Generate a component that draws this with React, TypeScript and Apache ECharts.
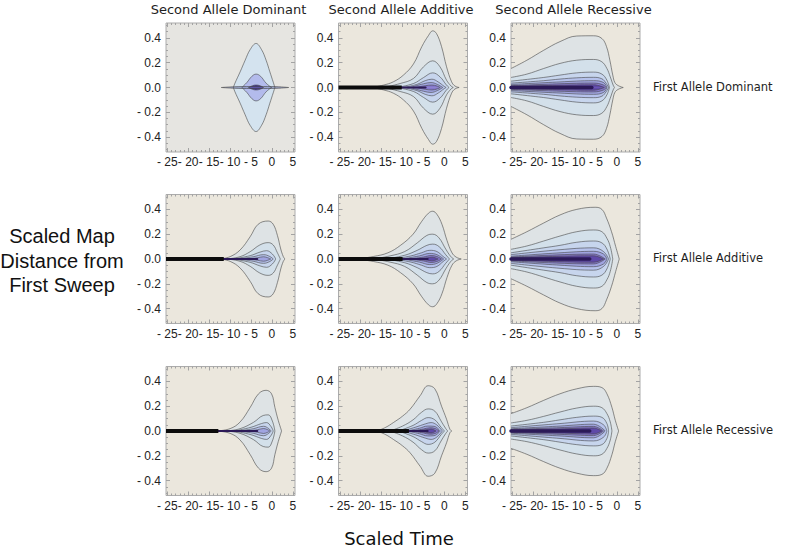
import React, { useEffect, useRef } from "react";
import * as echarts from "echarts";

type Pt = [number, number];
type Contour = Pt[];

const colTitles = ["Second Allele Dominant", "Second Allele Additive", "Second Allele Recessive"];
const rowTitles = ["First Allele Dominant", "First Allele Additive", "First Allele Recessive"];
const yTitleLines = ["Scaled Map", "Distance from", "First Sweep"];
const xTitle = "Scaled Time";

const xTicks = [-25, -20, -15, -10, -5, 0, 5];
const yTicks = [-0.4, -0.2, 0, 0.2, 0.4];
const X_MIN = -25.3, X_MAX = 5.5, Y_MIN = -0.52, Y_MAX = 0.52;

// Each contour: [x, half-width] points of its upper edge (mirrored below 0).
const fDomSDom: Contour[] = [
  [[-9.2, 0], [-8.9, 0.03], [-7.6, 0.126], [-6.4, 0.22], [-5.2, 0.306], [-3.8, 0.355], [-2.5, 0.306], [-1.4, 0.22], [-0.5, 0.126], [0.3, 0.043], [0.7, 0]],
  [[-7.2, 0], [-6.0, 0.04], [-4.8, 0.09], [-3.8, 0.108], [-2.7, 0.09], [-1.4, 0.035], [-0.1, 0]],
  [[-12.1, 0], [-9, 0.006], [-5, 0.008], [-2, 0.008], [1.5, 0.006], [4.0, 0]],
  [[-5.6, 0], [-4.6, 0.015], [-3.8, 0.02], [-2.9, 0.015], [-2.0, 0]],
];
const fDomSAdd: Contour[] = [
  [[-17.3, 0], [-14.6, 0.019], [-12.2, 0.046], [-9.8, 0.1], [-7.4, 0.19], [-5.4, 0.33], [-3.8, 0.42], [-2.8, 0.457], [-1.9, 0.435], [-0.7, 0.33], [0.5, 0.167], [1.7, 0.046], [2.5, 0.012], [3.5, 0]],
  [[-14.6, 0], [-10.6, 0.032], [-7.4, 0.073], [-5.0, 0.167], [-2.8, 0.215], [-1.07, 0.167], [0.5, 0.059], [1.6, 0.011], [2.1, 0]],
  [[-11.4, 0], [-7.4, 0.032], [-5.0, 0.08], [-2.8, 0.118], [-1.07, 0.086], [0.5, 0.019], [1.1, 0]],
  [[-9.8, 0], [-6.6, 0.025], [-4.6, 0.055], [-3.0, 0.067], [-1.5, 0.045], [-0.1, 0.01], [0.4, 0]],
  [[-8.2, 0], [-5.0, 0.03], [-3.2, 0.04], [-1.7, 0.025], [-0.4, 0]],
  [[-7, 0], [-4.5, 0.015], [-3, 0.02], [-1.8, 0.012], [-1, 0]],
];
const fDomSRec: Contour[] = [
  [[-25.3, 0.153], [-21.5, 0.22], [-17.5, 0.3], [-13.6, 0.37], [-9.6, 0.415], [-5.6, 0.417], [-3.6, 0.395], [-2.5, 0.33], [-1.7, 0.22], [-1.0, 0.1], [-0.5, 0.04], [0.3, 0.015], [1.5, 0]],
  [[-25.3, 0.081], [-21.5, 0.108], [-17.5, 0.153], [-13.6, 0.194], [-9.6, 0.22], [-5.6, 0.226], [-3.6, 0.207], [-2.4, 0.153], [-1.6, 0.086], [-0.9, 0.019], [-0.6, 0]],
  [[-25.3, 0.051], [-17.5, 0.081], [-13.6, 0.1], [-9.6, 0.118], [-5.6, 0.124], [-3.6, 0.108], [-2.4, 0.059], [-1.8, 0]],
  [[-25.3, 0.035], [-17.5, 0.055], [-13.6, 0.068], [-9.6, 0.078], [-5.6, 0.082], [-3.6, 0.07], [-2.6, 0.035], [-2.0, 0]],
  [[-25.3, 0.024], [-13.6, 0.045], [-5.6, 0.055], [-3.2, 0.04], [-2.4, 0]],
  [[-25.3, 0.015], [-13.6, 0.03], [-5.6, 0.036], [-3.2, 0.02], [-2.6, 0]],
  [[-25.3, 0.01], [-13.6, 0.018], [-5.6, 0.022], [-3.0, 0]],
];
const fAddSDom: Contour[] = [
  [[-12.4, 0], [-10.0, 0.019], [-7.6, 0.073], [-5.2, 0.18], [-3.3, 0.28], [-0.9, 0.306], [0.3, 0.28], [1.3, 0.19], [2.1, 0.08], [2.7, 0.02], [3.1, 0]],
  [[-10.8, 0], [-7.6, 0.019], [-5.2, 0.059], [-2.9, 0.113], [-0.9, 0.132], [0.3, 0.113], [1.3, 0.05], [2.0, 0]],
  [[-9.2, 0], [-5.2, 0.027], [-2.9, 0.055], [-1.3, 0.067], [0.1, 0.04], [0.9, 0]],
  [[-8, 0], [-4.5, 0.018], [-2, 0.035], [-0.5, 0.02], [0.3, 0]],
  [[-6, 0], [-3.5, 0.01], [-2, 0.018], [-1, 0.01], [-0.3, 0]],
];
const fAddSAdd: Contour[] = [
  [[-21, 0], [-17, 0.02], [-13.5, 0.05], [-10.5, 0.11], [-7.5, 0.2], [-5.5, 0.3], [-3.8, 0.37], [-2.8, 0.385], [-1.8, 0.36], [-0.6, 0.28], [0.6, 0.15], [1.8, 0.05], [2.8, 0.015], [4.0, 0]],
  [[-17, 0], [-13, 0.025], [-9.5, 0.06], [-6.5, 0.13], [-4.2, 0.19], [-2.8, 0.2], [-1.3, 0.17], [0.3, 0.08], [1.5, 0.02], [2.2, 0]],
  [[-14, 0], [-9.5, 0.03], [-6.5, 0.07], [-4.2, 0.11], [-2.8, 0.12], [-1.3, 0.1], [0.3, 0.035], [1.2, 0]],
  [[-12, 0], [-8, 0.025], [-5.5, 0.05], [-3.5, 0.07], [-1.8, 0.06], [-0.3, 0.02], [0.5, 0]],
  [[-10, 0], [-6, 0.025], [-3.5, 0.045], [-1.8, 0.035], [-0.2, 0]],
  [[-8.5, 0], [-5, 0.016], [-3.2, 0.028], [-1.8, 0.02], [-0.7, 0]],
  [[-7, 0], [-4, 0.01], [-3, 0.015], [-1.5, 0]],
];
const fAddSRec: Contour[] = [
  [[-25.3, 0.159], [-21.5, 0.22], [-17.5, 0.29], [-13.6, 0.355], [-9.6, 0.4], [-5.2, 0.417], [-3.6, 0.4], [-2.5, 0.33], [-1.3, 0.22], [-0.3, 0.1], [0.55, 0]],
  [[-25.3, 0.078], [-21.5, 0.105], [-17.5, 0.145], [-13.6, 0.185], [-9.6, 0.22], [-5.6, 0.234], [-3.6, 0.22], [-2.4, 0.167], [-1.6, 0.1], [-1.0, 0]],
  [[-25.3, 0.05], [-17.5, 0.09], [-13.6, 0.11], [-9.6, 0.135], [-5.6, 0.145], [-3.6, 0.13], [-2.4, 0.08], [-1.6, 0]],
  [[-25.3, 0.035], [-13.6, 0.075], [-5.6, 0.09], [-3.2, 0.06], [-2.0, 0]],
  [[-25.3, 0.022], [-13.6, 0.05], [-5.6, 0.062], [-3.2, 0.04], [-2.4, 0]],
  [[-25.3, 0.015], [-13.6, 0.034], [-5.6, 0.04], [-2.8, 0]],
  [[-25.3, 0.009], [-13.6, 0.022], [-5.6, 0.026], [-3.2, 0]],
];
const fRecSDom: Contour[] = [
  [[-13.2, 0], [-10.0, 0.019], [-7.6, 0.073], [-5.2, 0.19], [-3.2, 0.3], [-1.4, 0.328], [-0.1, 0.3], [0.7, 0.19], [1.5, 0.086], [2.3, 0]],
  [[-10.8, 0], [-7.6, 0.019], [-4.4, 0.07], [-2.1, 0.125], [-0.9, 0.13], [0.1, 0.08], [0.7, 0]],
  [[-9, 0], [-5, 0.03], [-2.5, 0.06], [-1.3, 0.068], [-0.2, 0.035], [0.3, 0]],
  [[-8, 0], [-4.5, 0.018], [-2, 0.038], [-0.8, 0.02], [-0.2, 0]],
  [[-6, 0], [-3.5, 0.01], [-2, 0.02], [-1, 0.01], [-0.5, 0]],
];
const fRecSAdd: Contour[] = [
  [[-16.1, 0], [-14, 0.03], [-12.2, 0.068], [-10, 0.12], [-8.2, 0.176], [-5.8, 0.285], [-3.9, 0.365], [-2.3, 0.34], [-0.7, 0.2], [0.5, 0.095], [1.3, 0.014], [1.7, 0]],
  [[-13, 0], [-10, 0.04], [-7.5, 0.09], [-5.5, 0.15], [-3.9, 0.178], [-2.3, 0.16], [-0.8, 0.08], [0.3, 0.02], [0.8, 0]],
  [[-11, 0], [-7.5, 0.045], [-5.5, 0.085], [-3.9, 0.108], [-2.3, 0.09], [-0.8, 0.03], [0, 0]],
  [[-10, 0], [-7, 0.03], [-4.5, 0.058], [-3.2, 0.068], [-1.8, 0.048], [-0.5, 0]],
  [[-9, 0], [-6, 0.022], [-4, 0.04], [-2.5, 0.038], [-1, 0]],
  [[-8, 0], [-5, 0.016], [-3.5, 0.026], [-2.2, 0.02], [-1.3, 0]],
  [[-7, 0], [-4.5, 0.01], [-3.2, 0.016], [-2, 0]],
];
const fRecSRec: Contour[] = [
  [[-25.3, 0.14], [-21.5, 0.188], [-17.5, 0.247], [-13.6, 0.3], [-9.6, 0.34], [-5.6, 0.36], [-3.6, 0.35], [-2.4, 0.3], [-1.2, 0.19], [-0.4, 0.086], [0.4, 0]],
  [[-25.3, 0.065], [-21.5, 0.086], [-17.5, 0.118], [-13.6, 0.153], [-9.6, 0.185], [-5.6, 0.2], [-3.6, 0.188], [-2.4, 0.14], [-1.6, 0.073], [-1.2, 0]],
  [[-25.3, 0.04], [-17.5, 0.07], [-13.6, 0.09], [-9.6, 0.11], [-5.6, 0.12], [-3.6, 0.11], [-2.4, 0.06], [-2.0, 0]],
  [[-25.3, 0.027], [-13.6, 0.06], [-5.6, 0.08], [-3.2, 0.05], [-2.4, 0]],
  [[-25.3, 0.018], [-13.6, 0.04], [-5.6, 0.055], [-2.8, 0]],
  [[-25.3, 0.012], [-13.6, 0.027], [-5.6, 0.037], [-3.2, 0]],
  [[-25.3, 0.007], [-13.6, 0.017], [-5.6, 0.024], [-3.6, 0]],
];

const panelContours: Contour[][][] = [
  [fDomSDom, fDomSAdd, fDomSRec],
  [fAddSDom, fAddSAdd, fAddSRec],
  [fRecSDom, fRecSAdd, fRecSRec],
];
// where the thick black ridge along 0 ends (null = none)
const blackRidgeEnd: (number | null)[][] = [
  [null, -10.2, null],
  [-11.5, -10.0, null],
  [-12.8, -8.5, null],
];
// where the dark purple core along 0 ends
const darkRidgeEnd: (number | null)[][] = [
  [null, -4.5, -6.0],
  [-3.5, -4.0, -6.5],
  [-3.5, -4.0, -6.5],
];

const COL_LEFT = [166, 338.5, 511];
const ROW_TOP = [23, 194.5, 366.5];
const SIZE = 129;

const PAL_MAIN = ["#dee3e5", "#d3e0ea", "#c7d5ed", "#b6c2ec", "#a0a4e0", "#8577cc", "#5f49a8"];
const PAL_FIRST = ["#d4e3ef", "#b3bbec", "#8e98c4", "#4a3a98"];

function fmtX(v: number) {
  return v < 0 ? "- " + Math.abs(v) : String(v);
}
function fmtY(v: number) {
  const a = Math.abs(v);
  return (v < -1e-9 ? "- " : "") + a.toFixed(1);
}

export default function App() {
  const ref = useRef<HTMLDivElement>(null);
  useEffect(() => {
    if (!ref.current) return;
    const chart = echarts.init(ref.current, null, { renderer: "svg" });

    const minorX: number[] = [];
    for (let v = -25; v <= 5; v++) if (v % 5 !== 0) minorX.push(v);
    const minorY: number[] = [];
    for (let i = -10; i <= 10; i++) if (i % 4 !== 0) minorY.push(i * 0.05);

    const grids: any[] = [];
    const xAxes: any[] = [];
    const yAxes: any[] = [];
    const series: any[] = [];
    const tickColor = "#a3a3a3";

    for (let r = 0; r < 3; r++) {
      for (let c = 0; c < 3; c++) {
        const gi = r * 3 + c;
        const first = r === 0 && c === 0;
        grids.push({
          left: COL_LEFT[c],
          top: ROW_TOP[r],
          width: SIZE,
          height: SIZE,
          show: true,
          backgroundColor: first ? "#e6e5e1" : "#ebe7dd",
          borderColor: "#acacac",
          borderWidth: 1,
        });
        const baseX = {
          gridIndex: gi,
          type: "value",
          min: X_MIN,
          max: X_MAX,
          axisLine: { show: false, onZero: false },
          splitLine: { show: false },
        };
        const baseY = {
          gridIndex: gi,
          type: "value",
          min: Y_MIN,
          max: Y_MAX,
          axisLine: { show: false, onZero: false },
          splitLine: { show: false },
        };
        xAxes.push(
          {
            ...baseX,
            position: "bottom",
            axisTick: { show: true, inside: true, length: 4, customValues: xTicks, lineStyle: { color: tickColor } },
            axisLabel: {
              show: true,
              customValues: xTicks,
              formatter: fmtX,
              fontSize: 12,
              fontFamily: "Liberation Sans",
              color: "#222",
              margin: 4,
            },
          },
          {
            ...baseX,
            position: "top",
            axisTick: { show: true, inside: true, length: 4, customValues: xTicks, lineStyle: { color: tickColor } },
            axisLabel: { show: false },
          },
          {
            ...baseX,
            position: "bottom",
            axisTick: { show: true, inside: true, length: 2, customValues: minorX, lineStyle: { color: tickColor } },
            axisLabel: { show: false },
          },
          {
            ...baseX,
            position: "top",
            axisTick: { show: true, inside: true, length: 2, customValues: minorX, lineStyle: { color: tickColor } },
            axisLabel: { show: false },
          }
        );
        yAxes.push(
          {
            ...baseY,
            position: "left",
            axisTick: { show: true, inside: true, length: 4, customValues: yTicks, lineStyle: { color: tickColor } },
            axisLabel: {
              show: true,
              customValues: yTicks,
              formatter: fmtY,
              fontSize: 12,
              fontFamily: "Liberation Sans",
              color: "#222",
              margin: 5,
            },
          },
          {
            ...baseY,
            position: "right",
            axisTick: { show: true, inside: true, length: 4, customValues: yTicks, lineStyle: { color: tickColor } },
            axisLabel: { show: false },
          },
          {
            ...baseY,
            position: "left",
            axisTick: { show: true, inside: true, length: 2, customValues: minorY, lineStyle: { color: tickColor } },
            axisLabel: { show: false },
          },
          {
            ...baseY,
            position: "right",
            axisTick: { show: true, inside: true, length: 2, customValues: minorY, lineStyle: { color: tickColor } },
            axisLabel: { show: false },
          }
        );

        const pal = first ? PAL_FIRST : PAL_MAIN;
        const contours = panelContours[r][c];
        contours.forEach((ct, k) => {
          const color = pal[Math.min(k, pal.length - 1)];
          [1, -1].forEach((sign) => {
            series.push({
              type: "line",
              xAxisIndex: gi * 4,
              yAxisIndex: gi * 4,
              data: ct.map(([x, h]) => [x, sign * h]),
              symbol: "none",
              smooth: 0.4,
              silent: true,
              z: 2,
              lineStyle: { color: "rgba(70,70,70,0.85)", width: 0.7 },
              areaStyle: { color, opacity: 1, origin: "auto" },
            });
          });
        });
        const bEnd = blackRidgeEnd[r][c];
        const dEnd = darkRidgeEnd[r][c];
        if (dEnd !== null) {
          series.push({
            type: "line",
            xAxisIndex: gi * 4,
            yAxisIndex: gi * 4,
            data: [[bEnd !== null ? bEnd - 0.5 : X_MIN, 0], [dEnd, 0]],
            symbol: "none",
            silent: true,
            z: 3,
            lineStyle: { color: "#2c1a58", width: c === 2 ? 3.5 : 2, cap: "round" },
          });
        }
        if (bEnd !== null) {
          series.push({
            type: "line",
            xAxisIndex: gi * 4,
            yAxisIndex: gi * 4,
            data: [[X_MIN, 0], [bEnd, 0]],
            symbol: "none",
            silent: true,
            z: 4,
            lineStyle: { color: "#0c0c0c", width: 4 },
          });
        }
      }
    }

    const texts: any[] = [];
    colTitles.forEach((t, c) => {
      texts.push({
        type: "text",
        x: COL_LEFT[c] + SIZE / 2 - 2,
        y: 9,
        style: {
          text: t,
          fill: "#1e1e1e",
          fontSize: 13,
          fontFamily: "DejaVu Sans",
          align: "center",
          verticalAlign: "middle",
          textAlign: "center",
          textVerticalAlign: "middle",
        },
      });
    });
    rowTitles.forEach((t, r) => {
      texts.push({
        type: "text",
        x: 653,
        y: ROW_TOP[r] + SIZE / 2 - 1,
        style: {
          text: t,
          fill: "#1e1e1e",
          fontSize: 11.5,
          fontFamily: "DejaVu Sans",
          align: "left",
          verticalAlign: "middle",
          textAlign: "left",
          textVerticalAlign: "middle",
        },
      });
    });
    yTitleLines.forEach((t, i) => {
      texts.push({
        type: "text",
        x: 62,
        y: 236 + i * 24.5,
        style: {
          text: t,
          fill: "#111",
          fontSize: 20,
          fontFamily: "Liberation Sans",
          align: "center",
          verticalAlign: "middle",
          textAlign: "center",
          textVerticalAlign: "middle",
        },
      });
    });
    texts.push({
      type: "text",
      x: 399,
      y: 538,
      style: {
        text: xTitle,
        fill: "#111",
        fontSize: 18,
        fontFamily: "DejaVu Sans",
        align: "center",
        verticalAlign: "middle",
        textAlign: "center",
        textVerticalAlign: "middle",
      },
    });

    chart.setOption({
      animation: false,
      backgroundColor: "#ffffff",
      grid: grids,
      xAxis: xAxes,
      yAxis: yAxes,
      series,
      graphic: { elements: texts },
    });
    return () => chart.dispose();
  }, []);
  return (
    <div
      ref={ref}
      style={{ position: "fixed", left: 0, top: 0, width: 794, height: 548 }}
    />
  );
}
